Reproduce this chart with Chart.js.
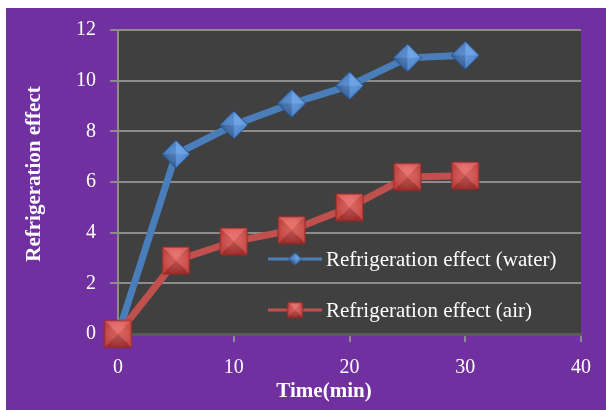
<!DOCTYPE html>
<html>
<head>
<meta charset="utf-8">
<script src="https://cdn.jsdelivr.net/npm/chart.js@4/dist/chart.umd.min.js"></script>
<style>
  html, body { margin: 0; padding: 0; background: #ffffff; }
  #wrap { width: 606px; height: 410px; }
</style>
</head>
<body>
<div id="wrap"><canvas id="c" width="606" height="410"></canvas></div>
<script>
// ---- data ----
const timeMin = [0, 5, 10, 15, 20, 25, 30];
const waterEffect = [0, 7.1, 8.25, 9.1, 9.8, 10.9, 11.0];
const airEffect = [0, 2.9, 3.65, 4.1, 5.0, 6.2, 6.25];
const seriesLabels = ['Refrigeration effect (water)', 'Refrigeration effect (air)'];
const xTitle = 'Time(min)';
const yTitle = 'Refrigeration effect';

// ---- shaded marker images ----
function makeMarker(size, diamond, c) {
  const pad = 2;
  const cv = document.createElement('canvas');
  cv.width = size + pad * 2; cv.height = size + pad * 2;
  const g = cv.getContext('2d');
  const s = size, o = pad, cx = o + s / 2, cy = o + s / 2;
  let pts;
  if (diamond) pts = [[cx, o], [o + s, cy], [cx, o + s], [o, cy]];
  else pts = [[o, o], [o + s, o], [o + s, o + s], [o, o + s]];
  const faces = [c.light, c.mid, c.dark, c.mid2];
  for (let i = 0; i < 4; i++) {
    const a = pts[i], b = pts[(i + 1) % 4];
    g.beginPath(); g.moveTo(cx, cy); g.lineTo(a[0], a[1]); g.lineTo(b[0], b[1]); g.closePath();
    g.fillStyle = faces[i]; g.fill();
  }
  const rg = g.createRadialGradient(cx, cy - s * 0.1, 0, cx, cy, s * 0.5);
  rg.addColorStop(0, c.glow); rg.addColorStop(1, 'rgba(255,255,255,0)');
  g.beginPath(); g.moveTo(pts[0][0], pts[0][1]);
  for (let i = 1; i < 4; i++) g.lineTo(pts[i][0], pts[i][1]);
  g.closePath(); g.fillStyle = rg; g.fill();
  g.lineWidth = 1; g.strokeStyle = c.edge; g.stroke();
  return cv;
}
const blueShades = { light: '#5895dc', mid: '#437fc9', mid2: '#3a72b8', dark: '#2a5896', glow: 'rgba(130,180,250,0.4)', edge: '#284f88' };
const redShades = { light: '#e0625e', mid: '#cc4a46', mid2: '#c4433f', dark: '#a12e2b', glow: 'rgba(255,150,140,0.3)', edge: '#8f2926' };
const waterMarker = makeMarker(28, true, blueShades);
const airMarker = makeMarker(27, false, redShades);
const waterMarkerSmall = makeMarker(13, true, blueShades);
const airMarkerSmall = makeMarker(15, false, redShades);

const FONT = '"Liberation Serif", "Times New Roman", serif';

const bgPlugin = {
  id: 'bg',
  beforeDraw(chart) {
    const ctx = chart.ctx, a = chart.chartArea;
    ctx.save();
    ctx.fillStyle = '#ffffff';
    ctx.fillRect(0, 0, chart.width, chart.height);
    ctx.fillStyle = '#7030a0';
    ctx.fillRect(6, 8, chart.width - 6, chart.height - 8);
    ctx.fillStyle = '#404040';
    ctx.fillRect(a.left, a.top, a.right - a.left, a.bottom - a.top);
    ctx.restore();
  },
  afterDraw(chart) {
    const ctx = chart.ctx, a = chart.chartArea;
    ctx.save();
    ctx.fillStyle = '#ffffff';
    ctx.font = 'bold 21px ' + FONT;
    ctx.textAlign = 'center';
    ctx.textBaseline = 'middle';
    ctx.fillText(xTitle, a.left + 206, 392);
    ctx.translate(35, 174);
    ctx.rotate(-Math.PI / 2);
    ctx.fillText(yTitle, 0, 0);
    ctx.restore();
  }
};

const legendPlugin = {
  id: 'insideLegend',
  afterDatasetsDraw(chart) {
    const ctx = chart.ctx, a = chart.chartArea;
    const rows = [a.top + 229, a.top + 280];
    const smalls = [waterMarkerSmall, airMarkerSmall];
    ctx.save();
    chart.data.datasets.forEach((ds, i) => {
      const y = rows[i];
      const x0 = a.left + 150, x1 = a.left + 204;
      ctx.strokeStyle = ds.borderColor;
      ctx.lineWidth = 3;
      ctx.beginPath(); ctx.moveTo(x0, y); ctx.lineTo(x1, y); ctx.stroke();
      Chart.helpers.drawPoint(ctx, { pointStyle: smalls[i], rotation: 0, borderWidth: 0 }, (x0 + x1) / 2, y);
      ctx.fillStyle = '#ffffff';
      ctx.font = '21px ' + FONT;
      ctx.textAlign = 'left';
      ctx.textBaseline = 'middle';
      ctx.fillText(ds.label, a.left + 208, y + 1);
    });
    ctx.restore();
  }
};

const toPts = (xs, ys) => xs.map((x, i) => ({ x: x, y: ys[i] }));

new Chart(document.getElementById('c'), {
  type: 'line',
  data: {
    datasets: [
      {
        label: seriesLabels[0],
        data: toPts(timeMin, waterEffect),
        borderColor: '#4a7ebb',
        backgroundColor: '#4a7ebb',
        borderWidth: 7,
        pointStyle: waterMarker,
        tension: 0,
        fill: false,
        clip: false,
        order: 1
      },
      {
        label: seriesLabels[1],
        data: toPts(timeMin, airEffect),
        borderColor: '#c0504d',
        backgroundColor: '#c0504d',
        borderWidth: 7,
        pointStyle: airMarker,
        tension: 0,
        fill: false,
        clip: false,
        order: 0
      }
    ]
  },
  options: {
    responsive: false,
    animation: false,
    events: [],
    layout: { padding: { left: 0, top: 30, right: 25, bottom: 0 } },
    plugins: { legend: { display: false }, tooltip: { enabled: false }, title: { display: false } },
    scales: {
      x: {
        type: 'linear',
        min: 0, max: 40,
        afterFit: (s) => { s.height = 76; },
        grid: { drawOnChartArea: false, drawTicks: true, tickLength: 8, color: '#8c8c8c', lineWidth: 2 },
        border: { display: true, color: '#5a5a5a', width: 3 },
        ticks: { stepSize: 10, color: '#ffffff', font: { family: FONT, size: 20 }, padding: 14, maxRotation: 0 }
      },
      y: {
        min: 0, max: 12,
        afterFit: (s) => { s.width = 118; },
        grid: { color: '#8c8c8c', lineWidth: 2, tickLength: 8 },
        border: { display: true, color: '#8c8c8c', width: 2 },
        ticks: { stepSize: 2, color: '#ffffff', font: { family: FONT, size: 20 }, padding: 14 }
      }
    }
  },
  plugins: [bgPlugin, legendPlugin]
});
</script>
</body>
</html>
